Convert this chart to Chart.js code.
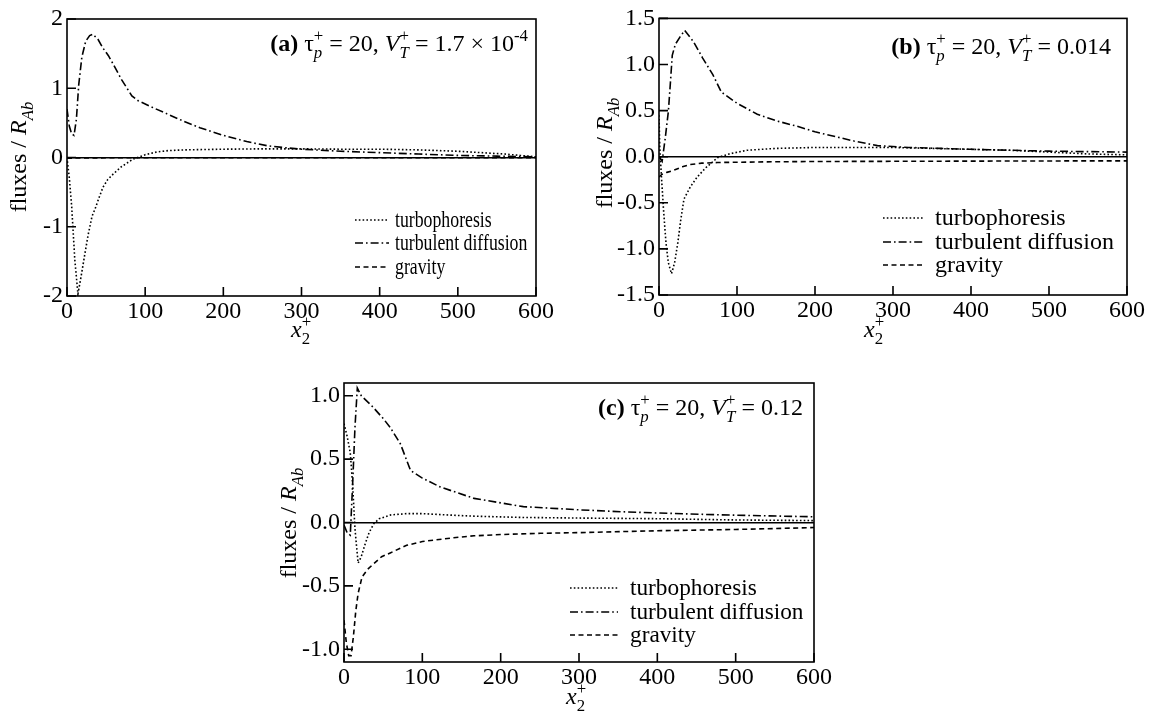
<!DOCTYPE html>
<html><head><meta charset="utf-8">
<script src="https://cdn.jsdelivr.net/npm/chart.js@4.4.1/dist/chart.umd.min.js"></script>
<style>
html,body{margin:0;padding:0;background:#fff;}
#wrap{position:relative;width:1153px;height:719px;overflow:hidden;}
canvas{position:absolute;left:0;top:0;}
</style></head><body>
<div id="wrap">
<canvas id="pa" width="1153" height="719"></canvas>
<canvas id="pb" width="1153" height="719"></canvas>
<canvas id="pc" width="1153" height="719"></canvas>
</div>
<script>
const FONT = '"Liberation Serif", "Times New Roman", serif';

// shared axis ticks and series names
const xTicks = [0, 100, 200, 300, 400, 500, 600];
const yTicksA = [-2, -1, 0, 1, 2];
const yTicksB = [-1.5, -1.0, -0.5, 0, 0.5, 1.0, 1.5];
const yTicksC = [-1.0, -0.5, 0, 0.5, 1.0];
const names = ['turbophoresis', 'turbulent diffusion', 'gravity'];

// (a) V_T+ = 1.7e-4
const aTpX = [0, 3, 6, 10, 14, 18, 22, 27, 32, 36, 41, 46, 52, 59, 70, 85, 100, 115, 130, 150, 200, 250, 300, 350, 400, 450, 500, 530, 560, 580, 600];
const aTpY = [0, -0.3, -0.71, -1.48, -1.97, -1.72, -1.45, -1.12, -0.85, -0.74, -0.58, -0.43, -0.32, -0.24, -0.13, -0.02, 0.04, 0.08, 0.10, 0.11, 0.12, 0.125, 0.125, 0.12, 0.12, 0.11, 0.09, 0.07, 0.05, 0.03, 0.01];
const aTdX = [0, 3, 6, 9, 12, 15, 19, 24, 29, 33, 40, 46, 53, 59, 70, 83, 91, 110, 128, 150, 170, 200, 230, 256, 280, 300, 350, 400, 450, 500, 550, 600];
const aTdY = [0.70, 0.45, 0.34, 0.32, 0.55, 1.05, 1.45, 1.68, 1.76, 1.78, 1.70, 1.58, 1.47, 1.35, 1.12, 0.89, 0.82, 0.72, 0.63, 0.52, 0.43, 0.32, 0.23, 0.17, 0.14, 0.12, 0.09, 0.07, 0.05, 0.03, 0.02, 0.01];
const aGrX = [0, 20, 100, 200, 300, 400, 500, 600];
const aGrY = [-0.01, -0.005, -0.004, -0.004, -0.004, -0.003, -0.003, -0.003];

// (b) V_T+ = 0.014
const bTpX = [0, 1, 3, 6, 9, 12, 16, 20, 24, 28, 32, 40, 49, 60, 75, 90, 113, 150, 200, 250, 300, 350, 400, 450, 500, 550, 600];
const bTpY = [0.45, 0.1, -0.2, -0.6, -0.94, -1.15, -1.27, -1.15, -0.94, -0.68, -0.46, -0.33, -0.22, -0.12, -0.01, 0.03, 0.07, 0.09, 0.10, 0.10, 0.10, 0.09, 0.08, 0.07, 0.05, 0.03, 0.02];
const bTdX = [0, 4, 8, 12, 15, 17, 21, 27, 33, 44, 56, 69, 80, 100, 126, 150, 177, 200, 220, 250, 280, 320, 360, 400, 450, 500, 550, 600];
const bTdY = [0.0, -0.05, 0.2, 0.49, 0.85, 1.1, 1.22, 1.30, 1.37, 1.25, 1.07, 0.89, 0.70, 0.58, 0.46, 0.39, 0.33, 0.27, 0.23, 0.17, 0.12, 0.10, 0.09, 0.08, 0.07, 0.06, 0.055, 0.05];
const bGrX = [0, 4, 10, 18, 30, 40, 55, 75, 100, 150, 200, 300, 400, 500, 600];
const bGrY = [-0.22, -0.19, -0.17, -0.15, -0.11, -0.085, -0.07, -0.063, -0.06, -0.055, -0.052, -0.05, -0.048, -0.046, -0.045];

// (c) V_T+ = 0.12
const cTpX = [0, 4, 8, 11, 14, 18, 22, 27, 32, 38, 45, 60, 80, 100, 130, 166, 226, 300, 400, 500, 600];
const cTpY = [0.78, 0.68, 0.55, 0.30, -0.05, -0.32, -0.27, -0.17, -0.08, -0.01, 0.03, 0.06, 0.07, 0.07, 0.06, 0.05, 0.04, 0.035, 0.03, 0.02, 0.015];
const cTdX = [0, 4, 8, 11, 14, 17, 22, 37, 50, 59, 72, 85, 100, 123, 166, 229, 300, 354, 400, 482, 600];
const cTdY = [-0.02, -0.08, -0.1, 0.3, 0.75, 1.06, 1.0, 0.91, 0.82, 0.75, 0.62, 0.41, 0.35, 0.28, 0.19, 0.125, 0.10, 0.085, 0.075, 0.06, 0.045];
const cGrX = [0, 3, 6, 9, 12, 15, 18, 23, 30, 37, 48, 59, 80, 100, 140, 166, 200, 251, 300, 400, 500, 600];
const cGrY = [-0.77, -0.95, -1.05, -1.05, -0.9, -0.7, -0.56, -0.43, -0.37, -0.33, -0.27, -0.24, -0.18, -0.15, -0.12, -0.105, -0.095, -0.085, -0.08, -0.065, -0.055, -0.04];

const dashes = [[1.6, 2.2], [8, 3, 1.6, 3], [5, 3.5]];

function pts(xs, ys) { return xs.map((x, i) => ({x, y: ys[i]})); }

// text made of runs: sub/sup, italic, bold; `over` stacks on the previous run
function drawRuns(ctx, runs, x, y, size, dry) {
  let cx = x, start = x, end = x;
  for (const r of runs) {
    const fs = (r.sub || r.sup) ? size * 0.7 : size;
    ctx.font = (r.b ? 'bold ' : '') + (r.i ? 'italic ' : '') + fs + 'px ' + FONT;
    const w = ctx.measureText(r.t).width;
    const sx = r.over ? start : cx;
    const dy = r.sub ? size * 0.3 : r.sup ? -size * 0.42 : 0;
    if (!dry) ctx.fillText(r.t, sx, y + dy);
    if (r.over) cx = Math.max(end, sx + w);
    else { start = sx; cx = sx + w; }
    end = cx;
  }
  return cx - x;
}

const yTitle = [{t: 'fluxes / '}, {t: 'R', i: true}, {t: 'Ab', i: true, sub: true}];
const xTitle = [{t: 'x', i: true}, {t: '2', sub: true}, {t: '+', sup: true, over: true}];
function note(tag, vt) {
  return [{t: tag, b: true}, {t: ' τ'}, {t: 'p', i: true, sub: true}, {t: '+', sup: true, over: true},
    {t: ' = 20, '}, {t: 'V', i: true}, {t: 'T', i: true, sub: true}, {t: '+', sup: true, over: true}].concat(vt);
}

const panels = [
  {id: 'pa', rect: {l: 67, t: 19, r: 536, b: 296}, yMin: -2, yMax: 2, yTicks: yTicksA, dec: 0,
   series: [[aTpX, aTpY], [aTdX, aTdY], [aGrX, aGrY]],
   leg: {x0: 355, x1: 389, tx: 395, ys: [220, 243, 267], sx: 0.74},
   note: {runs: note('(a)', [{t: ' = 1.7 × 10'}, {t: '-4', sup: true}]), right: 528, y: 51},
   yT: {cx: 18, cy: 157}, xT: {x: 291, y: 337}},
  {id: 'pb', rect: {l: 659, t: 16, r: 1127, b: 295}, yMin: -1.5, yMax: 1.5, yTicks: yTicksB, dec: 1,
   series: [[bTpX, bTpY], [bTdX, bTdY], [bGrX, bGrY]],
   leg: {x0: 883, x1: 923, tx: 935, ys: [218, 242, 265], sx: 1},
   note: {runs: note('(b)', [{t: ' = 0.014'}]), right: 1111, y: 54},
   yT: {cx: 604, cy: 153}, xT: {x: 864, y: 337}},
  {id: 'pc', rect: {l: 344, t: 383, r: 814, b: 662}, yMin: -1.1, yMax: 1.1, yTicks: yTicksC, dec: 1,
   series: [[cTpX, cTpY], [cTdX, cTdY], [cGrX, cGrY]],
   leg: {x0: 570, x1: 618, tx: 630, ys: [588, 612, 635], sx: 0.97},
   note: {runs: note('(c)', [{t: ' = 0.12'}]), right: 803, y: 415},
   yT: {cx: 288, cy: 523}, xT: {x: 566, y: 704}}
];

function framePlugin(p) {
  return {
    id: 'frame',
    afterDraw(chart) {
      const {ctx, chartArea: a, scales} = chart;
      ctx.save();
      ctx.strokeStyle = '#000';
      ctx.fillStyle = '#000';
      ctx.lineWidth = 1.6;
      ctx.strokeRect(a.left, a.top, a.right - a.left, a.bottom - a.top);
      ctx.beginPath();
      scales.x.ticks.forEach(t => {
        const px = scales.x.getPixelForValue(t.value);
        ctx.moveTo(px, a.bottom); ctx.lineTo(px, a.bottom - 9);
      });
      scales.y.ticks.forEach(t => {
        const py = scales.y.getPixelForValue(t.value);
        ctx.moveTo(a.left, py); ctx.lineTo(a.left + 9, py);
      });
      ctx.stroke();

      // legend
      chart.data.datasets.forEach((ds, i) => {
        const yy = p.leg.ys[i];
        ctx.lineWidth = ds.borderWidth;
        ctx.setLineDash(ds.borderDash);
        ctx.beginPath(); ctx.moveTo(p.leg.x0, yy); ctx.lineTo(p.leg.x1, yy); ctx.stroke();
        ctx.setLineDash([]);
        ctx.save();
        ctx.font = '24px ' + FONT;
        ctx.textBaseline = 'alphabetic';
        ctx.translate(p.leg.tx, yy + 7);
        ctx.scale(p.leg.sx, 1);
        ctx.fillText(ds.label, 0, 0);
        ctx.restore();
      });

      // panel note, right aligned
      ctx.textBaseline = 'alphabetic';
      const w = drawRuns(ctx, p.note.runs, 0, 0, 24, true);
      drawRuns(ctx, p.note.runs, p.note.right - w, p.note.y, 24, false);

      // axis titles
      drawRuns(ctx, xTitle, p.xT.x, p.xT.y, 24, false);
      ctx.translate(p.yT.cx, p.yT.cy);
      ctx.rotate(-Math.PI / 2);
      const wy = drawRuns(ctx, yTitle, 0, 0, 24, true);
      drawRuns(ctx, yTitle, -wy / 2, 8, 24, false);
      ctx.restore();
    }
  };
}

const XH = 40, YW = 60, W = 1153, H = 719;

panels.forEach(p => {
  const r = p.rect;
  new Chart(document.getElementById(p.id), {
    type: 'line',
    data: {
      datasets: p.series.map((s, i) => ({
        label: names[i],
        data: pts(s[0], s[1]),
        borderColor: '#000',
        borderWidth: 1.6,
        borderDash: dashes[i],
        pointRadius: 0,
        tension: 0,
        fill: false
      }))
    },
    options: {
      responsive: false,
      animation: false,
      devicePixelRatio: 1,
      layout: {padding: {left: r.l - YW, top: r.t, right: W - r.r, bottom: H - r.b - XH}},
      plugins: {legend: {display: false}, tooltip: {enabled: false}},
      scales: {
        x: {
          type: 'linear', min: 0, max: 600,
          afterBuildTicks: s => { s.ticks = xTicks.map(v => ({value: v})); },
          afterFit: s => { s.height = XH; },
          grid: {display: false, drawTicks: false},
          border: {display: false},
          ticks: {color: '#000', font: {family: FONT, size: 24}, padding: 1, maxRotation: 0, autoSkip: false}
        },
        y: {
          type: 'linear', min: p.yMin, max: p.yMax,
          afterBuildTicks: s => { s.ticks = p.yTicks.map(v => ({value: v})); },
          afterFit: s => { s.width = YW; },
          grid: {drawTicks: false, lineWidth: 1.5,
                 color: c => (c.tick && c.tick.value === 0) ? '#000' : 'rgba(0,0,0,0)'},
          border: {display: false},
          ticks: {color: '#000', font: {family: FONT, size: 24}, padding: 4, autoSkip: false,
                  callback: v => p.dec ? Number(v).toFixed(p.dec) : String(v)}
        }
      }
    },
    plugins: [framePlugin(p)]
  });
});
</script>
</body></html>
